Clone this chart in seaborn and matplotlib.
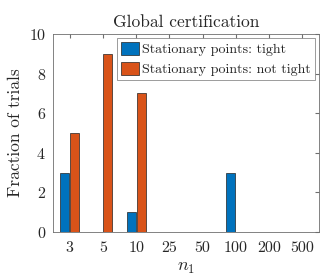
import matplotlib
matplotlib.use("Agg")
import matplotlib.pyplot as plt
import seaborn as sns
import pandas as pd

n1_values = ["3", "5", "10", "25", "50", "100", "200", "500"]
tight = [3, 0, 1, 0, 0, 3, 0, 0]
not_tight = [5, 9, 7, 0, 0, 0, 0, 0]
series_names = ["Stationary points: tight", "Stationary points: not tight"]

df = pd.DataFrame({
    "n1": n1_values * 2,
    "value": tight + not_tight,
    "series": [series_names[0]] * len(n1_values) + [series_names[1]] * len(n1_values),
})

sns.set_style("white")
plt.rcParams["font.family"] = ["cmr10", "DejaVu Serif"]
plt.rcParams["mathtext.fontset"] = "cm"
plt.rcParams["axes.formatter.use_mathtext"] = True

fig = plt.figure(figsize=(3.29, 2.77), dpi=100)
ax = fig.add_axes([53 / 329, 1 - 232 / 277, 266 / 329, 198 / 277])

sns.barplot(data=df, x="n1", y="value", hue="series", order=n1_values,
            hue_order=series_names, palette=["#0072BD", "#D95319"],
            saturation=1, width=0.6, gap=0.1, edgecolor="#222222",
            linewidth=0.5, ax=ax)

ax.set_xlim(-0.5, 7.5)
ax.set_ylim(0, 10)
ax.set_yticks([0, 2, 4, 6, 8, 10])
ax.set_title("Global certification", fontsize=12.5, pad=5)
ax.set_xlabel("$n_1$", fontsize=13, labelpad=4)
ax.set_ylabel("Fraction of trials", fontsize=12.5, labelpad=4)
ax.tick_params(axis="both", labelsize=11.5, direction="in", length=3,
               top=True, right=True, color="#6e6e6e")
ax.tick_params(axis="x", pad=7)
ax.tick_params(axis="y", pad=5)
for s in ax.spines.values():
    s.set_visible(True)
    s.set_color("#6e6e6e")
    s.set_linewidth(0.6)

leg = ax.legend(loc="upper right", fontsize=10.1, frameon=True, fancybox=False,
                borderpad=0.3, handlelength=1.3, handleheight=1.0,
                handletextpad=0.2, labelspacing=0.4, borderaxespad=0.3)
leg.get_frame().set_edgecolor("#6e6e6e")
leg.get_frame().set_linewidth(0.6)

fig.savefig("out.png", dpi=100)
